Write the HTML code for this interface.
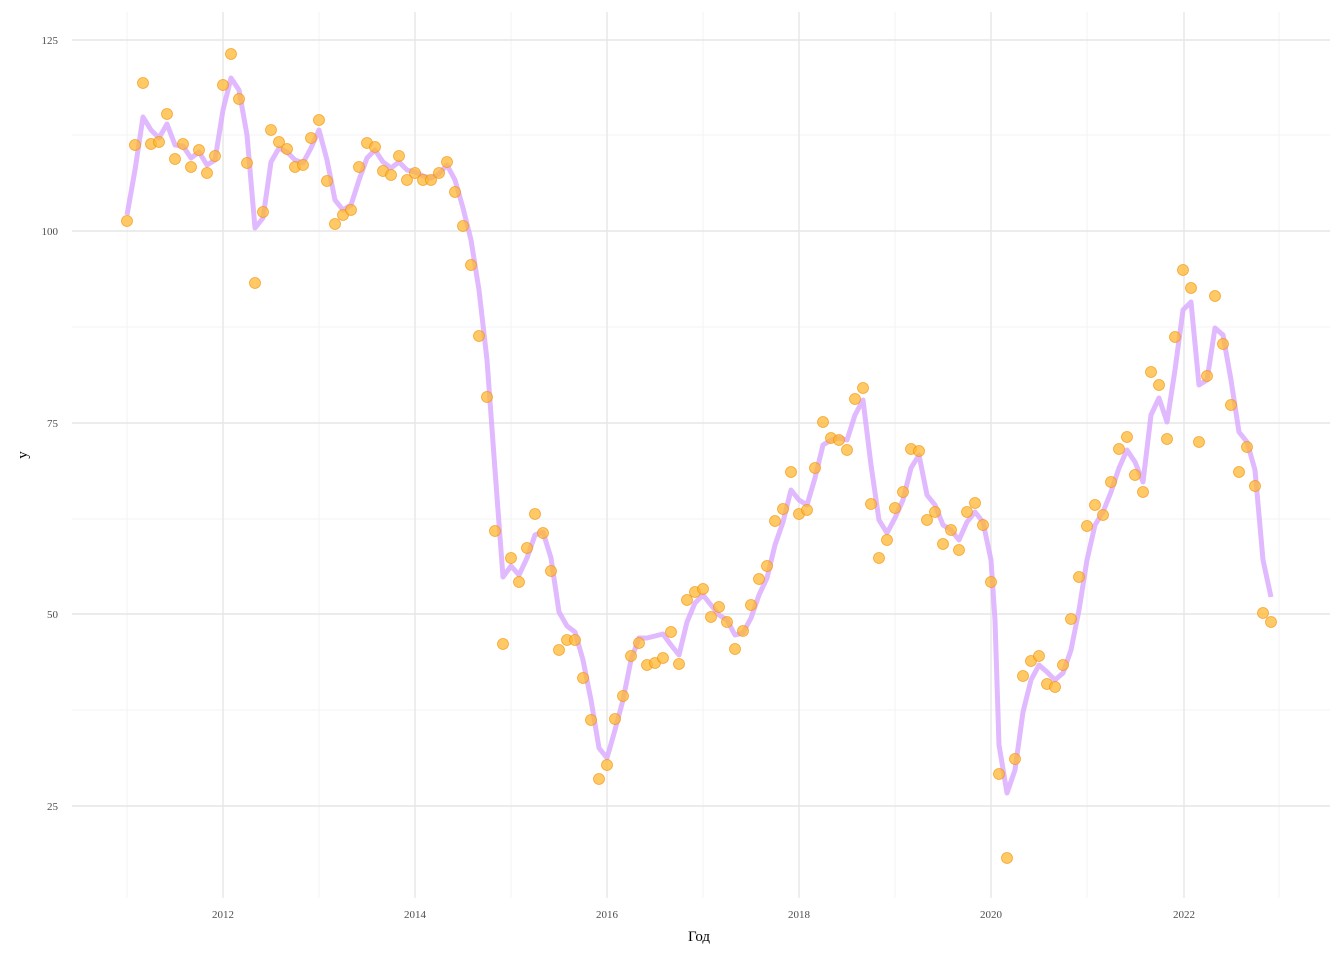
<!DOCTYPE html>
<html><head><meta charset="utf-8"><style>body{margin:0;background:#fff}svg{display:block}text{font-family:"Liberation Serif",serif;fill:#4d4d4d}</style></head><body>
<svg width="1344" height="960" xmlns="http://www.w3.org/2000/svg">
<g stroke="#f3f3f3" stroke-width="1">
<line x1="72" x2="1330" y1="135" y2="135"/><line x1="72" x2="1330" y1="327" y2="327"/><line x1="72" x2="1330" y1="519" y2="519"/><line x1="72" x2="1330" y1="710" y2="710"/>
<line y1="12" y2="898" x1="127" x2="127"/><line y1="12" y2="898" x1="319" x2="319"/><line y1="12" y2="898" x1="511" x2="511"/><line y1="12" y2="898" x1="703" x2="703"/><line y1="12" y2="898" x1="895" x2="895"/><line y1="12" y2="898" x1="1087" x2="1087"/><line y1="12" y2="898" x1="1279" x2="1279"/>
</g>
<g stroke="#e6e6e6" stroke-width="1.4">
<line x1="72" x2="1330" y1="40" y2="40"/><line x1="72" x2="1330" y1="231" y2="231"/><line x1="72" x2="1330" y1="423" y2="423"/><line x1="72" x2="1330" y1="614" y2="614"/><line x1="72" x2="1330" y1="806" y2="806"/>
<line y1="12" y2="898" x1="223" x2="223"/><line y1="12" y2="898" x1="415" x2="415"/><line y1="12" y2="898" x1="607" x2="607"/><line y1="12" y2="898" x1="799" x2="799"/><line y1="12" y2="898" x1="991" x2="991"/><line y1="12" y2="898" x1="1184" x2="1184"/>
</g>
<g font-size="11" text-anchor="end">
<text x="58" y="44">125</text><text x="58" y="235">100</text><text x="58" y="427">75</text><text x="58" y="618">50</text><text x="58" y="810">25</text>
</g>
<g font-size="11" text-anchor="middle">
<text x="223" y="918">2012</text><text x="415" y="918">2014</text><text x="607" y="918">2016</text><text x="799" y="918">2018</text><text x="991" y="918">2020</text><text x="1184" y="918">2022</text>
</g>
<text x="699" y="941" font-size="15" text-anchor="middle" style="fill:#000">Год</text>
<text transform="translate(27,455) rotate(-90)" font-size="15" text-anchor="middle" style="fill:#000">y</text>
<polyline fill="none" stroke="#d9a8ff" stroke-opacity="0.8" stroke-width="5" stroke-linejoin="round" points="127,215 135,170 143,117 151,130 159,138 167,124 175,145 183,146 191,158 199,152 207,165 215,160 223,110 231,78 239,90 247,135 255,228 263,218 271,162 279,148 287,152 295,160 303,163 311,148 319,130 327,160 335,200 343,210 351,205 359,180 367,158 375,150 383,162 391,168 399,162 407,170 415,172 423,176 431,178 439,174 447,165 455,180 463,208 471,240 479,290 487,360 495,470 503,577 511,566 519,575 527,558 535,535 543,532 551,558 559,612 567,626 575,632 583,660 591,700 599,748 607,758 615,730 623,700 631,660 639,638 647,638 655,636 663,634 671,645 679,655 687,622 695,603 703,595 711,605 719,615 727,620 735,635 743,633 751,618 759,595 767,578 775,545 783,522 791,490 799,500 807,505 815,478 823,445 831,440 839,438 847,440 855,415 863,400 871,465 879,520 887,533 895,518 903,500 911,468 919,455 927,495 935,505 943,525 951,530 959,540 967,522 975,512 983,522 991,560 995,620 999,745 1007,793 1015,770 1023,712 1031,680 1039,665 1047,672 1055,680 1063,673 1071,650 1079,610 1087,560 1095,525 1103,512 1111,492 1119,468 1127,450 1135,462 1143,482 1151,415 1159,398 1167,422 1175,370 1183,310 1191,302 1199,385 1207,380 1215,328 1223,335 1231,380 1239,432 1247,442 1255,470 1263,560 1271,597"/>
<g fill="#ffb733" fill-opacity="0.75" stroke="#f08c00" stroke-opacity="0.7" stroke-width="0.8">
<circle cx="127" cy="221" r="5.5"/><circle cx="135" cy="145" r="5.5"/><circle cx="143" cy="83" r="5.5"/><circle cx="151" cy="144" r="5.5"/><circle cx="159" cy="142" r="5.5"/><circle cx="167" cy="114" r="5.5"/><circle cx="175" cy="159" r="5.5"/><circle cx="183" cy="144" r="5.5"/><circle cx="191" cy="167" r="5.5"/><circle cx="199" cy="150" r="5.5"/><circle cx="207" cy="173" r="5.5"/><circle cx="215" cy="156" r="5.5"/>
<circle cx="223" cy="85" r="5.5"/><circle cx="231" cy="54" r="5.5"/><circle cx="239" cy="99" r="5.5"/><circle cx="247" cy="163" r="5.5"/><circle cx="255" cy="283" r="5.5"/><circle cx="263" cy="212" r="5.5"/><circle cx="271" cy="130" r="5.5"/><circle cx="279" cy="142" r="5.5"/><circle cx="287" cy="149" r="5.5"/><circle cx="295" cy="167" r="5.5"/><circle cx="303" cy="165" r="5.5"/><circle cx="311" cy="138" r="5.5"/>
<circle cx="319" cy="120" r="5.5"/><circle cx="327" cy="181" r="5.5"/><circle cx="335" cy="224" r="5.5"/><circle cx="343" cy="215" r="5.5"/><circle cx="351" cy="210" r="5.5"/><circle cx="359" cy="167" r="5.5"/><circle cx="367" cy="143" r="5.5"/><circle cx="375" cy="147" r="5.5"/><circle cx="383" cy="171" r="5.5"/><circle cx="391" cy="175" r="5.5"/><circle cx="399" cy="156" r="5.5"/><circle cx="407" cy="180" r="5.5"/>
<circle cx="415" cy="173" r="5.5"/><circle cx="423" cy="180" r="5.5"/><circle cx="431" cy="180" r="5.5"/><circle cx="439" cy="173" r="5.5"/><circle cx="447" cy="162" r="5.5"/><circle cx="455" cy="192" r="5.5"/><circle cx="463" cy="226" r="5.5"/><circle cx="471" cy="265" r="5.5"/><circle cx="479" cy="336" r="5.5"/><circle cx="487" cy="397" r="5.5"/><circle cx="495" cy="531" r="5.5"/><circle cx="503" cy="644" r="5.5"/>
<circle cx="511" cy="558" r="5.5"/><circle cx="519" cy="582" r="5.5"/><circle cx="527" cy="548" r="5.5"/><circle cx="535" cy="514" r="5.5"/><circle cx="543" cy="533" r="5.5"/><circle cx="551" cy="571" r="5.5"/><circle cx="559" cy="650" r="5.5"/><circle cx="567" cy="640" r="5.5"/><circle cx="575" cy="640" r="5.5"/><circle cx="583" cy="678" r="5.5"/><circle cx="591" cy="720" r="5.5"/><circle cx="599" cy="779" r="5.5"/>
<circle cx="607" cy="765" r="5.5"/><circle cx="615" cy="719" r="5.5"/><circle cx="623" cy="696" r="5.5"/><circle cx="631" cy="656" r="5.5"/><circle cx="639" cy="643" r="5.5"/><circle cx="647" cy="665" r="5.5"/><circle cx="655" cy="663" r="5.5"/><circle cx="663" cy="658" r="5.5"/><circle cx="671" cy="632" r="5.5"/><circle cx="679" cy="664" r="5.5"/><circle cx="687" cy="600" r="5.5"/><circle cx="695" cy="592" r="5.5"/>
<circle cx="703" cy="589" r="5.5"/><circle cx="711" cy="617" r="5.5"/><circle cx="719" cy="607" r="5.5"/><circle cx="727" cy="622" r="5.5"/><circle cx="735" cy="649" r="5.5"/><circle cx="743" cy="631" r="5.5"/><circle cx="751" cy="605" r="5.5"/><circle cx="759" cy="579" r="5.5"/><circle cx="767" cy="566" r="5.5"/><circle cx="775" cy="521" r="5.5"/><circle cx="783" cy="509" r="5.5"/><circle cx="791" cy="472" r="5.5"/>
<circle cx="799" cy="514" r="5.5"/><circle cx="807" cy="510" r="5.5"/><circle cx="815" cy="468" r="5.5"/><circle cx="823" cy="422" r="5.5"/><circle cx="831" cy="438" r="5.5"/><circle cx="839" cy="440" r="5.5"/><circle cx="847" cy="450" r="5.5"/><circle cx="855" cy="399" r="5.5"/><circle cx="863" cy="388" r="5.5"/><circle cx="871" cy="504" r="5.5"/><circle cx="879" cy="558" r="5.5"/><circle cx="887" cy="540" r="5.5"/>
<circle cx="895" cy="508" r="5.5"/><circle cx="903" cy="492" r="5.5"/><circle cx="911" cy="449" r="5.5"/><circle cx="919" cy="451" r="5.5"/><circle cx="927" cy="520" r="5.5"/><circle cx="935" cy="512" r="5.5"/><circle cx="943" cy="544" r="5.5"/><circle cx="951" cy="530" r="5.5"/><circle cx="959" cy="550" r="5.5"/><circle cx="967" cy="512" r="5.5"/><circle cx="975" cy="503" r="5.5"/><circle cx="983" cy="525" r="5.5"/>
<circle cx="991" cy="582" r="5.5"/><circle cx="999" cy="774" r="5.5"/><circle cx="1007" cy="858" r="5.5"/><circle cx="1015" cy="759" r="5.5"/><circle cx="1023" cy="676" r="5.5"/><circle cx="1031" cy="661" r="5.5"/><circle cx="1039" cy="656" r="5.5"/><circle cx="1047" cy="684" r="5.5"/><circle cx="1055" cy="687" r="5.5"/><circle cx="1063" cy="665" r="5.5"/><circle cx="1071" cy="619" r="5.5"/><circle cx="1079" cy="577" r="5.5"/>
<circle cx="1087" cy="526" r="5.5"/><circle cx="1095" cy="505" r="5.5"/><circle cx="1103" cy="515" r="5.5"/><circle cx="1111" cy="482" r="5.5"/><circle cx="1119" cy="449" r="5.5"/><circle cx="1127" cy="437" r="5.5"/><circle cx="1135" cy="475" r="5.5"/><circle cx="1143" cy="492" r="5.5"/><circle cx="1151" cy="372" r="5.5"/><circle cx="1159" cy="385" r="5.5"/><circle cx="1167" cy="439" r="5.5"/><circle cx="1175" cy="337" r="5.5"/>
<circle cx="1183" cy="270" r="5.5"/><circle cx="1191" cy="288" r="5.5"/><circle cx="1199" cy="442" r="5.5"/><circle cx="1207" cy="376" r="5.5"/><circle cx="1215" cy="296" r="5.5"/><circle cx="1223" cy="344" r="5.5"/><circle cx="1231" cy="405" r="5.5"/><circle cx="1239" cy="472" r="5.5"/><circle cx="1247" cy="447" r="5.5"/><circle cx="1255" cy="486" r="5.5"/><circle cx="1263" cy="613" r="5.5"/><circle cx="1271" cy="622" r="5.5"/>
</g>
</svg>
</body></html>
